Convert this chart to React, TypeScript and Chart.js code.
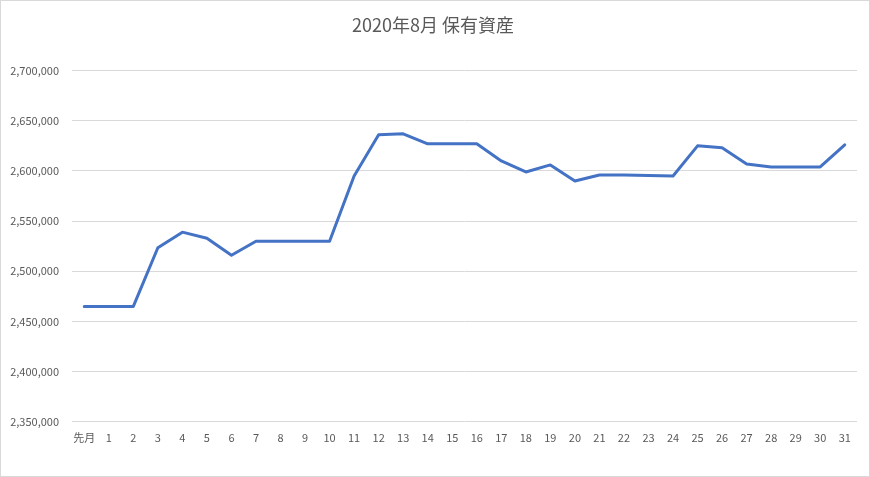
import React, { useEffect, useRef } from "react";
import { Chart, registerables } from "chart.js";

Chart.register(...registerables);

const titleText = "2020年8月 保有資産";
const categories = ["先月", "1", "2", "3", "4", "5", "6", "7", "8", "9", "10", "11", "12", "13", "14", "15", "16", "17", "18", "19", "20", "21", "22", "23", "24", "25", "26", "27", "28", "29", "30", "31"];
const assets = [2465000, 2465000, 2465000, 2523500, 2539000, 2533000, 2516000, 2530000, 2530000, 2530000, 2530000, 2595000, 2636000, 2637000, 2627000, 2627000, 2627000, 2610000, 2599000, 2606000, 2590000, 2596000, 2596000, 2595500, 2595000, 2625000, 2623000, 2607000, 2604000, 2604000, 2604000, 2626000];
const yMin = 2350000;
const yMax = 2700000;
const yStep = 50000;

export default function App() {
  const ref = useRef<HTMLCanvasElement | null>(null);
  useEffect(() => {
    if (!ref.current) return;
    const font = "'Noto Sans CJK JP', 'Noto Sans', sans-serif";
    const chart = new Chart(ref.current, {
      type: "line",
      data: {
        labels: categories,
        datasets: [
          {
            label: titleText,
            data: assets,
            borderColor: "#4472C4",
            backgroundColor: "#4472C4",
            borderWidth: 3,
            pointRadius: 0,
            tension: 0,
            borderJoinStyle: "round",
            borderCapStyle: "round",
          },
        ],
      },
      options: {
        animation: false,
        responsive: false,
        maintainAspectRatio: false,
        layout: { padding: { left: 8, right: 12, top: 0, bottom: 23 } },
        plugins: {
          legend: { display: false },
          tooltip: { enabled: false },
          title: {
            display: true,
            text: titleText,
            color: "#595959",
            font: { family: font, size: 18, weight: "normal" },
            padding: { top: 13, bottom: 35 },
          },
        },
        scales: {
          x: {
            offset: true,
            grid: { display: false, drawTicks: false },
            border: { display: false },
            ticks: {
              color: "#595959",
              font: { family: font, size: 11 },
              padding: 9,
              maxRotation: 0,
              autoSkip: false,
            },
          },
          y: {
            min: yMin,
            max: yMax,
            grid: { color: "#d9d9d9", lineWidth: 1, drawTicks: false },
            border: { display: false },
            ticks: {
              stepSize: yStep,
              color: "#595959",
              font: { family: font, size: 11 },
              padding: 13,
              callback: (v: any) => Number(v).toLocaleString("en-US"),
            },
            afterFit: (scale: any) => {
              scale.width = 63;
            },
          },
        },
      },
    });
    return () => chart.destroy();
  }, []);
  return (
    <div
      style={{
        position: "fixed",
        left: 0,
        top: 0,
        width: 870,
        height: 477,
        border: "1px solid #d9d9d9",
        boxSizing: "border-box",
        background: "#fff",
      }}
    >
      <canvas ref={ref} width={868} height={475} style={{ display: "block" }} />
    </div>
  );
}
